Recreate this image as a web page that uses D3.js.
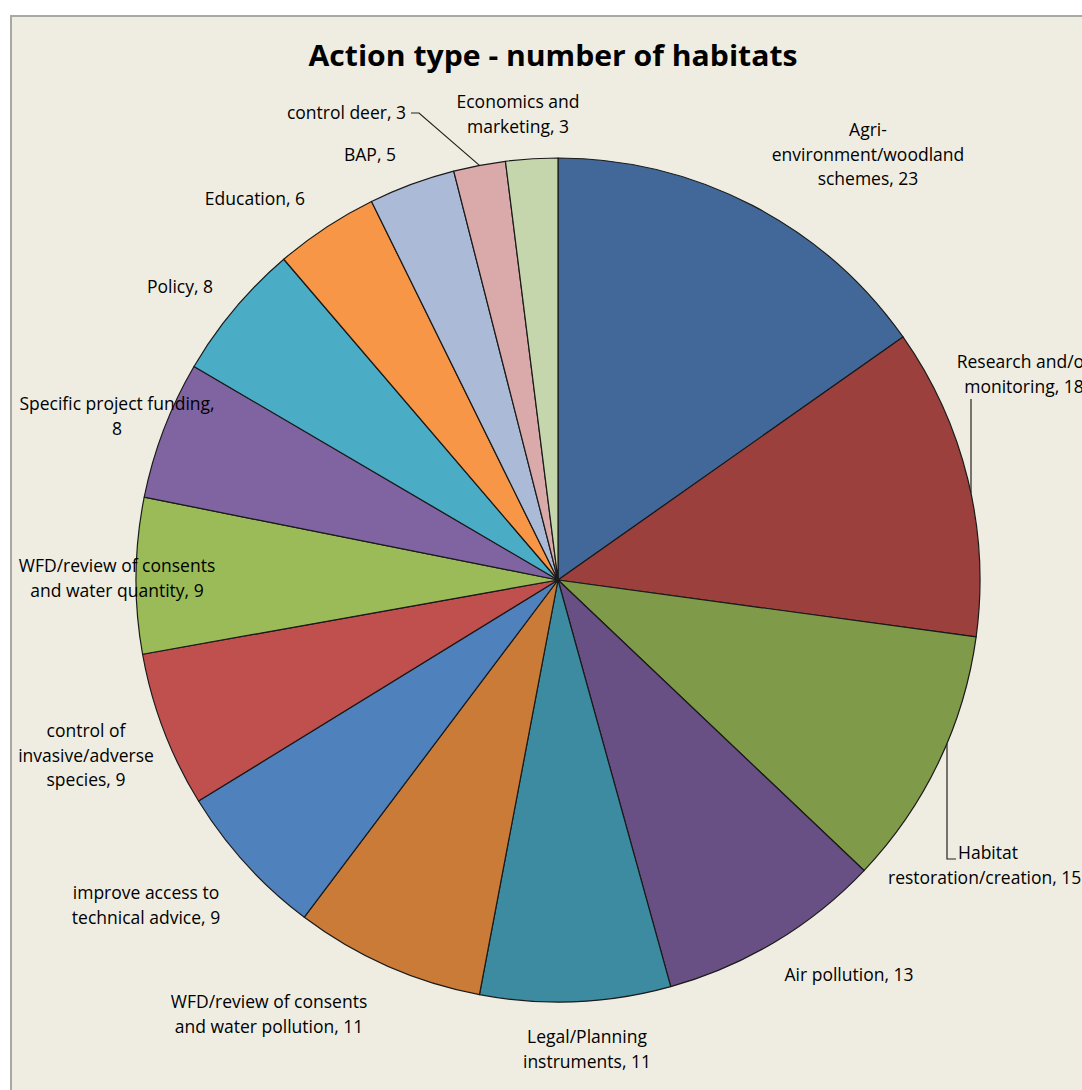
<!DOCTYPE html>
<html>
<head>
<meta charset="utf-8">
<script src="https://cdn.jsdelivr.net/npm/d3@7"></script>
<style>
  html, body { margin: 0; padding: 0; background: #ffffff; }
  svg { display: block; }
  text { font-family: "Open Sans", Lato, sans-serif; fill: #000; }
</style>
</head>
<body>
<svg id="chart" width="1082" height="1090"></svg>
<script>
// Chart data
const categories = [
  "Agri-environment/woodland schemes",
  "Research and/or monitoring",
  "Habitat restoration/creation",
  "Air pollution",
  "Legal/Planning instruments",
  "WFD/review of consents and water pollution",
  "improve access to technical advice",
  "control of invasive/adverse species",
  "WFD/review of consents and water quantity",
  "Specific project funding",
  "Policy",
  "Education",
  "BAP",
  "control deer",
  "Economics and marketing"
];
const values = [23, 18, 15, 13, 11, 11, 9, 9, 9, 8, 8, 6, 5, 3, 3];

// Label text as wrapped in the chart
const labelLines = [
  ["Agri-", "environment/woodland", "schemes, 23"],
  ["Research and/or", "monitoring, 18"],
  ["Habitat", "restoration/creation, 15"],
  ["Air pollution, 13"],
  ["Legal/Planning", "instruments, 11"],
  ["WFD/review of consents", "and water pollution, 11"],
  ["improve access to", "technical advice, 9"],
  ["control of", "invasive/adverse", "species, 9"],
  ["WFD/review of consents", "and water quantity, 9"],
  ["Specific project funding,", "8"],
  ["Policy, 8"],
  ["Education, 6"],
  ["BAP, 5"],
  ["control deer, 3"],
  ["Economics and", "marketing, 3"]
];

const colors = [
  "#416899", "#9C403D", "#7F9A48", "#684F84", "#3D8BA1",
  "#CA7B38", "#4F81BD", "#C0504D", "#9BBB59", "#8064A2",
  "#4BACC6", "#F79646", "#AABAD7", "#D9AAA9", "#C6D6AC"
];

// Layout: label anchor (x, y of first line centre, text-anchor)
const labelLayout = [
  [868, 130, "middle"],
  [1024, 362, "middle"],
  [958, 853, "start"],
  [849, 975, "middle"],
  [587, 1037, "middle"],
  [269, 1002, "middle"],
  [146, 893, "middle"],
  [86, 731, "middle"],
  [117, 566, "middle"],
  [117, 404, "middle"],
  [180, 287, "middle"],
  [255, 199, "middle"],
  [370, 155, "middle"],
  [406, 113, "end"],
  [518, 102, "middle"]
];

const svg = d3.select("#chart");
const width = 1082, height = 1090;
const cx = 558, cy = 580, radius = 422;

// Panel background and border
svg.append("rect")
  .attr("x", 10).attr("y", 15)
  .attr("width", width).attr("height", height)
  .attr("fill", "#EFEDE2");
svg.append("path")
  .attr("d", `M 11 ${height} V 16 H ${width}`)
  .attr("fill", "none")
  .attr("stroke", "#A8A8A4")
  .attr("stroke-width", 2);

// Title
svg.append("text")
  .attr("x", 553).attr("y", 66)
  .attr("text-anchor", "middle")
  .attr("font-size", 29)
  .attr("font-weight", "bold")
  .attr("textLength", 489)
  .attr("lengthAdjust", "spacingAndGlyphs")
  .text("Action type - number of habitats");

// Pie
const pie = d3.pie().sort(null).value(d => d)(values);
const arc = d3.arc().innerRadius(0).outerRadius(radius);

const g = svg.append("g").attr("transform", `translate(${cx},${cy})`);
g.selectAll("path.slice")
  .data(pie)
  .enter().append("path")
  .attr("class", "slice")
  .attr("d", arc)
  .attr("fill", (d, i) => colors[i])
  .attr("stroke", "#1a1a1a")
  .attr("stroke-width", 1.2)
  .attr("stroke-linejoin", "round");

// Labels
const lineHeight = 24.5;
const labels = svg.append("g").attr("class", "labels");
labelLines.forEach((lines, i) => {
  const [x, y, anchor] = labelLayout[i];
  const t = labels.append("text")
    .attr("text-anchor", anchor)
    .attr("font-size", 17.5)
    .attr("font-weight", 500);
  lines.forEach((line, j) => {
    let lx = x;
    // Habitat label: second line starts further left
    if (i === 2 && j === 1) lx = 888;
    t.append("tspan")
      .attr("x", lx)
      .attr("y", y + j * lineHeight)
      .attr("dy", "0.35em")
      .text(line);
  });
});

// Leader lines from labels to their slices
function edgePoint(i) {
  const a = (pie[i].startAngle + pie[i].endAngle) / 2;
  return [cx + radius * Math.sin(a), cy - radius * Math.cos(a)];
}
const leaders = svg.append("g")
  .attr("fill", "none")
  .attr("stroke", "#222")
  .attr("stroke-width", 1.2);

// Research and/or monitoring: vertical line down to the pie edge
const rx = 971;
const ry = cy - Math.sqrt(radius * radius - (rx - cx) * (rx - cx));
leaders.append("path")
  .attr("d", d3.line()([[rx, 399], [rx, ry]]));

// Habitat restoration/creation: elbow line
const hx = 947;
const hy = cy + Math.sqrt(radius * radius - (hx - cx) * (hx - cx));
leaders.append("path")
  .attr("d", d3.line()([[hx, hy], [hx, 859], [956, 859]]));

// control deer: short tick then diagonal to slice
const deer = edgePoint(13);
leaders.append("path")
  .attr("d", d3.line()([[411, 113], [419, 113], deer]));
</script>
</body>
</html>
